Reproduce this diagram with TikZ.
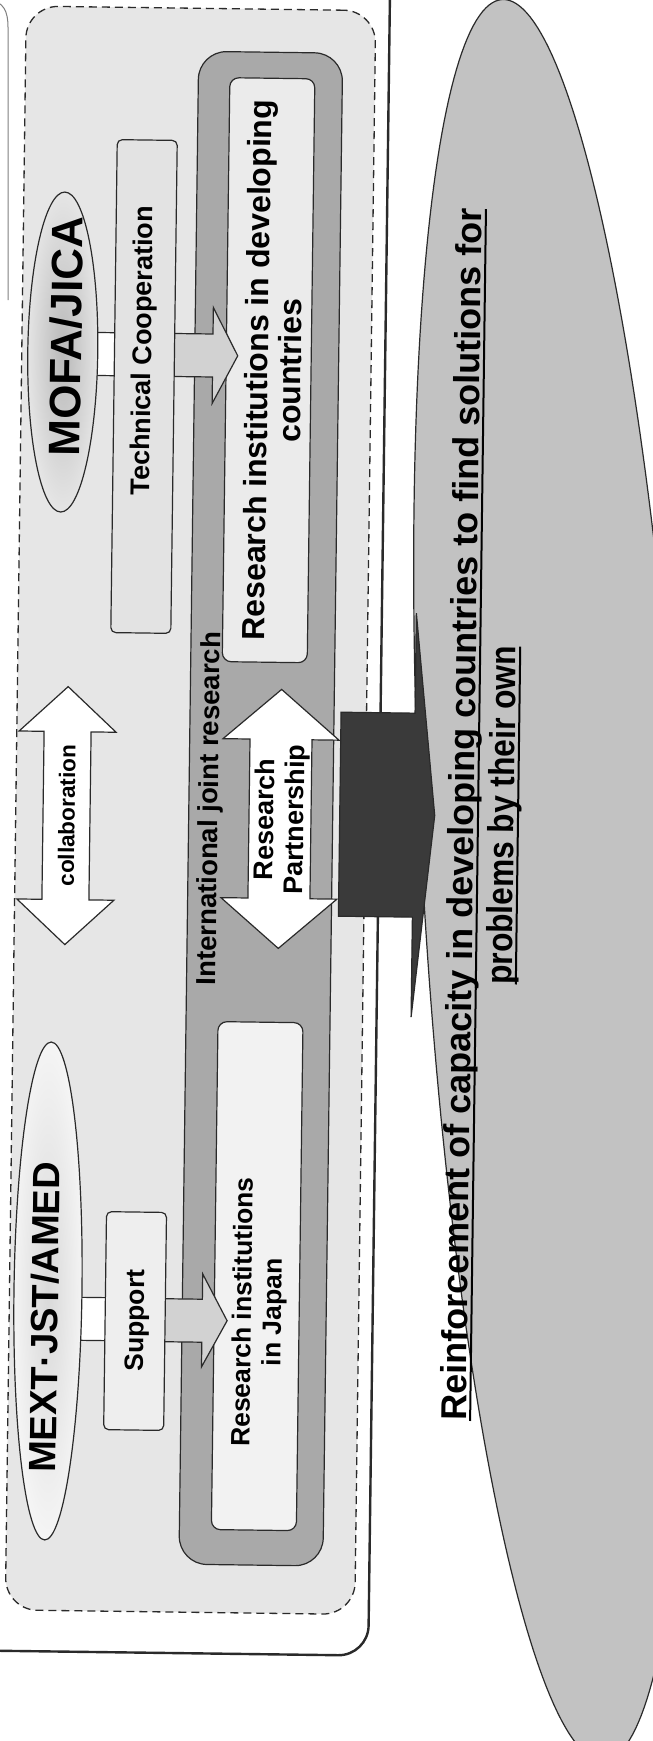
\documentclass[tikz,border=0pt]{standalone}
\usepackage{fontspec}
\setmainfont{Liberation Sans}
\usetikzlibrary{shapes.geometric}
\definecolor{lncol}{HTML}{2A2A2A}
\definecolor{dashfill}{HTML}{E6E6E6}
\definecolor{jointfill}{HTML}{A9A9A9}
\definecolor{devfill}{HTML}{EBEBEB}
\definecolor{jpfill}{HTML}{F2F2F2}
\definecolor{techfill}{HTML}{E3E3E3}
\definecolor{supfill}{HTML}{EEEEEE}
\definecolor{bigell}{HTML}{C2C2C2}
\definecolor{arrfill}{HTML}{D2D2D2}
\definecolor{darkarr}{HTML}{3A3A3A}
\newcommand{\ulx}[1]{\setbox0=\hbox{#1}\leavevmode\rlap{\copy0}\raisebox{-5pt}{\rule{\wd0}{2pt}}}
\newcommand{\fsz}[1]{\bfseries\fontsize{#1}{#1}\selectfont}
\begin{document}
\begin{tikzpicture}[x=1pt,y=-1pt,
  ln/.style={draw=lncol, line width=1.2pt},
  txt/.style={text=black, rotate=90, align=center, inner sep=0pt},
  rbox/.style={ln, rounded corners=5pt, inner sep=0pt},
  blockarrow/.style={ln, fill=arrfill, line join=miter},
  dblarrow/.style={ln, fill=white, line join=miter}]
\useasboundingbox (0,0) rectangle (653,1741);
\clip (0,0) rectangle (653,1741);
\fill[white] (0,0) rectangle (653,1741);
\draw[draw=gray, line width=1pt] (-12,0) .. controls (4,1) and (8,12) .. (8,27) -- (8,300);
% goal ellipse (tilted)
\coordinate (goal) at (553,880);
\draw[ln, fill=bigell] plot[domain=0:360, samples=241, variable=\t]
  ({553+882*cos(\t)*sin(3.3)+130*sin(\t)*cos(3.3)}, {880+882*cos(\t)*cos(3.3)-130*sin(\t)*sin(3.3)}) -- cycle;
\begin{scope}[rotate around={-0.75:(326,870)}, transform shape]
  % outer frame
  \draw[lncol, line width=2.4pt, rounded corners=30pt] (-40,-40) rectangle (378.5,1655);
  % dashed frame
  \node[draw=lncol, line width=1.3pt, dash pattern=on 8pt off 5pt, fill=dashfill, rounded corners=32pt, minimum width=349.5pt, minimum height=1604pt, inner sep=0pt] (frame) at (189.75,812) {};
  % international joint research
  \node[ln, fill=jointfill, rounded corners=28pt, minimum width=144pt, minimum height=1513pt, inner sep=0pt] (joint) at (260,809.5) {};
  \node[rbox, fill=devfill, rounded corners=9pt, minimum width=85pt, minimum height=584pt] (devinst) at (262,371) {};
  \node[rbox, fill=jpfill, rounded corners=9pt, minimum width=85pt, minimum height=508pt] (jpinst) at (262.5,1277) {};
  % block arrows
  \draw[blockarrow] (160,335.5) -- (206,335.5) -- (206,309) -- (231,357) -- (206,405) -- (206,378.5) -- (160,378.5) -- cycle;
  \draw[blockarrow] (160,1300.8) -- (208,1300.8) -- (208,1275.5) -- (233,1322) -- (208,1368.5) -- (208,1343.8) -- (160,1343.8) -- cycle;
  % connector bars
  \draw[ln, fill=white] (80,335.5) rectangle (125,378.5);
  \draw[ln, fill=white] (75,1300.5) rectangle (125,1343.5);
  % ellipses
  \node[ellipse, ln, inner color=gray!55, outer color=gray!20, minimum width=70pt, minimum height=320pt, inner sep=0pt] (mofa) at (56,355.5) {};
  \node[ellipse, ln, inner color=gray!30, outer color=gray!8, minimum width=68pt, minimum height=498pt, inner sep=0pt] (mext) at (53.5,1294.6) {};
  % boxes
  \node[rbox, fill=techfill, minimum width=60pt, minimum height=493pt] (tech) at (137.7,388.9) {};
  \node[rbox, fill=supfill, minimum width=60pt, minimum height=218pt] (sup) at (141,1323.5) {};
  % double arrows
  \draw[dblarrow] (65.8,690) -- (114.3,735) -- (89.3,735) -- (89.3,903) -- (114.3,903) -- (65.8,948) -- (17.3,903) -- (42.3,903) -- (42.3,735) -- (17.3,735) -- cycle;
  \draw[dblarrow] (279.3,690) -- (337.3,740) -- (310.3,740) -- (310.3,899) -- (337.3,899) -- (279.3,949) -- (221.3,899) -- (248.3,899) -- (248.3,740) -- (221.3,740) -- cycle;
  % dark arrow
  \draw[ln, fill=darkarr, line join=miter] (339,712) -- (413,712) -- (413,612) -- (434,814) -- (413,1016) -- (413,916) -- (339,916) -- cycle;
  % texts
  \node[txt, font=\fsz{44}] (tmofa) at (59,340) {MOFA/JICA};
  \node[txt, font=\fsz{38}] (tmext) at (50.5,1321) {MEXT·JST/AMED};
  \node[txt, font=\fsz{27}] (ttech) at (137.5,353) {Technical Cooperation};
  \node[txt, font=\fsz{26.5}] (tsup) at (143,1323) {Support};
  \node[txt, font=\fsz{32}, execute at begin node=\setlength{\baselineskip}{33pt}] (tdev) at (266.5,371) {Research institutions in developing\\countries};
  \node[txt, font=\fsz{26.5}, execute at begin node=\setlength{\baselineskip}{30pt}] (tjp) at (265,1313) {Research institutions\\in Japan};
  \node[txt, font=\fsz{27.5}] (tjoint) at (210,810) {International joint research};
  \node[txt, font=\fsz{22.5}] (tcollab) at (66,819) {collaboration};
  \node[txt, font=\fsz{27}, execute at begin node=\setlength{\baselineskip}{30pt}] (trp) at (281,820) {Research\\Partnership};
  \node[txt, font=\fsz{36}, execute at begin node=\setlength{\baselineskip}{40pt}] (tgoal) at (484,813) {\ulx{Reinforcement of capacity in developing countries to find solutions for}\\\scalebox{0.88}[1]{\ulx{problems by their own}}};
\end{scope}
\end{tikzpicture}
\end{document}
